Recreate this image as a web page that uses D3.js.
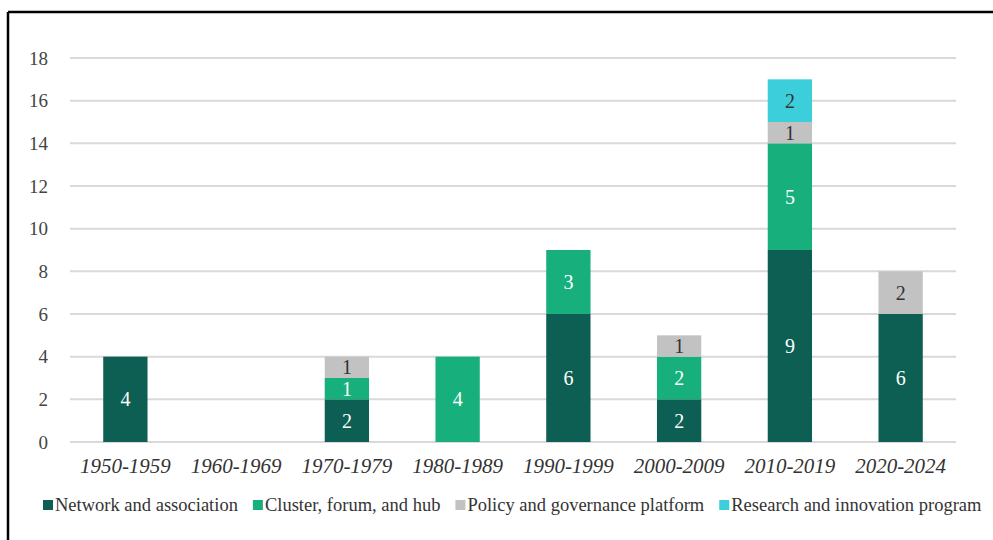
<!DOCTYPE html>
<html>
<head>
<meta charset="utf-8">
<script src="https://cdn.jsdelivr.net/npm/d3@7"></script>
<style>
  body { margin: 0; background: #fff; }
  svg { display: block; }
  svg text { font-family: "Liberation Serif", "Times New Roman", "DejaVu Serif", serif !important; }
</style>
</head>
<body>
<svg id="chart" width="993" height="540"></svg>
<script>
// categories + series values
var periods = ["1950-1959","1960-1969","1970-1979","1980-1989","1990-1999","2000-2009","2010-2019","2020-2024"];
var network  = [4,0,2,0,6,2,9,6];
var cluster  = [0,0,1,4,3,2,5,0];
var policy   = [0,0,1,0,0,1,1,2];
var research = [0,0,0,0,0,0,2,0];
var seriesNames = ["Network and association","Cluster, forum, and hub","Policy and governance platform","Research and innovation program"];
var seriesColors = ["#0c5f52","#17b07c","#c2c2c2","#3ccfdb"];
var labelColors = ["#ffffff","#ffffff","#333333","#333333"];
var yTicks = [0,2,4,6,8,10,12,14,16,18];

var svg = d3.select("#chart");
var margin = {left: 70, right: 37, top: 58, bottom: 98};
var W = 993, H = 540;

// frame (left + top only visible)
svg.append("line").attr("x1",8).attr("x2",8).attr("y1",12).attr("y2",540)
  .attr("stroke","#000").attr("stroke-width",2.5);
svg.append("line").attr("x1",8).attr("x2",993).attr("y1",12).attr("y2",12)
  .attr("stroke","#000").attr("stroke-width",2.5);

var x = d3.scaleBand().domain(periods).range([margin.left, W - margin.right]).paddingInner(0.6).paddingOuter(0.3);
var y = d3.scaleLinear().domain([0,18]).range([H - margin.bottom, margin.top]);

// gridlines
svg.append("g").selectAll("line.grid").data(yTicks).enter().append("line")
  .attr("class","grid")
  .attr("x1", margin.left).attr("x2", W - margin.right)
  .attr("y1", function (d) { return y(d) }).attr("y2", function (d) { return y(d) })
  .attr("stroke","#d9d9d9").attr("stroke-width",2);

// y axis labels
var yAxis = svg.append("g").attr("transform","translate(" + (margin.left - 12) + ",0)")
  .call(d3.axisLeft(y).tickValues(yTicks).tickSize(0).tickPadding(10));
yAxis.select(".domain").remove();
yAxis.selectAll("text").attr("font-size",19).attr("fill","#444");

// stack
var rows = periods.map(function (p, i) {
  return {period: p, s0: network[i], s1: cluster[i], s2: policy[i], s3: research[i]};
});
var stacked = d3.stack().keys(["s0","s1","s2","s3"])(rows);

var layers = svg.append("g").selectAll("g.layer").data(stacked).enter().append("g")
  .attr("class","layer")
  .attr("fill", function (d, i) { return seriesColors[i] });

layers.selectAll("rect").data(function (d) { return d }).enter().append("rect")
  .attr("x", function (d) { return x(d.data.period) })
  .attr("width", x.bandwidth())
  .attr("y", function (d) { return y(d[1]) })
  .attr("height", function (d) { return y(d[0]) - y(d[1]) });

layers.each(function (layer, li) {
  d3.select(this).selectAll("text").data(layer.filter(function (d) { return d[1] - d[0] > 0 }))
    .enter().append("text")
    .attr("x", function (d) { return x(d.data.period) + x.bandwidth() / 2 })
    .attr("y", function (d) { return (y(d[0]) + y(d[1])) / 2 })
    .attr("dy","0.35em")
    .attr("text-anchor","middle")
    .attr("font-size",20)
    .attr("fill", labelColors[li])
    .text(function (d) { return d[1] - d[0] });
});

// x axis labels
var xAxis = svg.append("g").attr("transform","translate(0," + (H - margin.bottom) + ")")
  .call(d3.axisBottom(x).tickSize(0).tickPadding(16));
xAxis.select(".domain").remove();
xAxis.selectAll("text").attr("font-size",21).attr("font-style","italic").attr("fill","#333");

// legend
var legend = svg.append("g").attr("transform","translate(43,505)");
var lx = 0;
seriesNames.forEach(function (name, i) {
  var g = legend.append("g").attr("transform","translate(" + lx + ",0)");
  g.append("rect").attr("x",0).attr("y",-5).attr("width",10).attr("height",10).attr("fill",seriesColors[i]);
  var t = g.append("text").attr("x",12).attr("dy","0.35em")
    .attr("font-size",18.5).attr("fill","#333")
    .text(name);
  lx += 12 + t.node().getComputedTextLength() + 15;
});
</script>
</body>
</html>
